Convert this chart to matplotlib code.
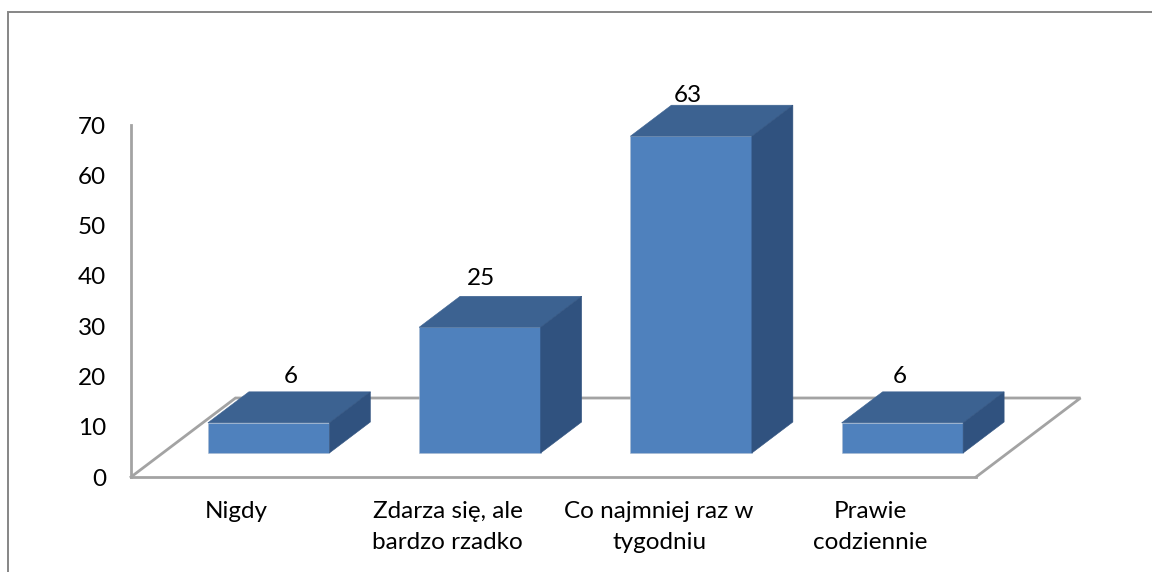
import matplotlib
matplotlib.use("Agg")
import matplotlib.pyplot as plt
from matplotlib.lines import Line2D
from matplotlib.patches import Polygon
from matplotlib.transforms import offset_copy

categories = ["Nigdy", "Zdarza się, ale\nbardzo rzadko", "Co najmniej raz w\ntygodniu", "Prawie\ncodziennie"]
values = [6, 25, 63, 6]
y_ticks = [0, 10, 20, 30, 40, 50, 60, 70]

plt.rcParams['font.family'] = ['Lato', 'DejaVu Sans']
W, H = 1152, 572
FS = 17.5
fig = plt.figure(figsize=(W / 100, H / 100), dpi=100, facecolor='white')
ax = fig.add_axes([131 / W, (H - 477) / H, 845 / W, 352 / H])
ax.set_xlim(0, 4)
ax.set_ylim(0, 70)
ax.patch.set_visible(False)

GRAY = '#a3a3a3'
px_x = 4 / 845
px_y = 70 / 352

for s in ('top', 'right'):
    ax.spines[s].set_visible(False)
for s in ('left', 'bottom'):
    ax.spines[s].set_color(GRAY)
    ax.spines[s].set_linewidth(2.0)
    ax.spines[s].set_zorder(1)

ax.set_yticks(y_ticks)
ax.set_yticklabels([str(t) for t in y_ticks], fontsize=FS, color='black')
ax.set_xticks([i + 0.5 for i in range(len(categories))])
ax.set_xticklabels(categories, fontsize=FS, color='black', linespacing=1.57)
ax.tick_params(axis='y', length=0, pad=18)
ax.tick_params(axis='x', length=0, pad=17.5)

# floor parallelogram
fdx, fdy = 104.5 * px_x, 79 * px_y
ax.add_line(Line2D([0, fdx, 4 + fdx, 4], [0, fdy, fdy, 0], color=GRAY, lw=2.0,
                   clip_on=False, zorder=1, solid_joinstyle='miter'))

# 3-D bars: fronts sit part way back on the floor
front = offset_copy(ax.transData, fig=fig, x=32, y=24, units='dots')
bw = 121.5 * px_x
dx, dy = 41 * px_x, 31 * px_y
xs = [i + 0.5 for i in range(len(values))]
ax.bar(xs, values, width=bw, color='#4f81bd', edgecolor='#a9bbd2', linewidth=0.4,
       transform=front, zorder=3, clip_on=False)
for x, v in zip(xs, values):
    l, r = x - bw / 2, x + bw / 2
    ax.add_patch(Polygon([(l, v), (r, v), (r + dx, v + dy), (l + dx, v + dy)], closed=True,
                         facecolor='#3c6291', edgecolor='#3c6291', linewidth=0.4,
                         transform=front, zorder=3, clip_on=False))
    ax.add_patch(Polygon([(r, 0), (r + dx, dy), (r + dx, v + dy), (r, v)], closed=True,
                         facecolor='#30527f', edgecolor='#30527f', linewidth=0.4,
                         transform=front, zorder=3, clip_on=False))

label_nudge = [(22, 15), (1, 18), (-3, 10), (-3, 15)]
for x, v, (nx, ny) in zip(xs, values, label_nudge):
    ax.annotate(str(v), xy=(x, v + dy), xycoords=front, xytext=(nx * 0.72, ny * 0.72),
                textcoords='offset points', ha='center', va='center',
                fontsize=FS, color='black', zorder=5, annotation_clip=False)

# outer frame of the picture
fig.add_artist(Line2D([8 / W, 8 / W, 1], [0, (H - 11.5) / H, (H - 11.5) / H],
                      color='#868686', lw=1.4, solid_joinstyle='miter'))

fig.savefig('out.png', dpi=100, facecolor='white')
